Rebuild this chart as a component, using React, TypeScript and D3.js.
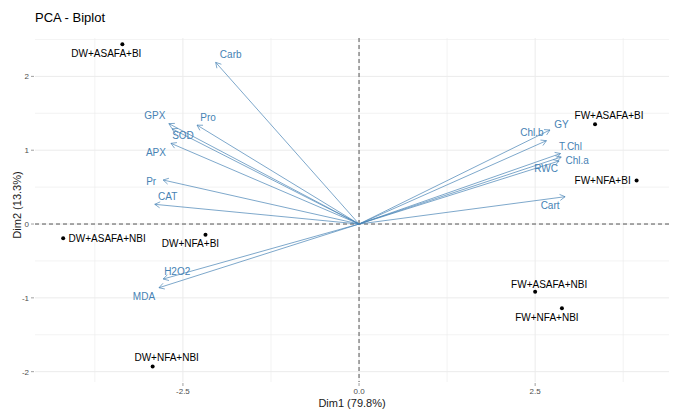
import React from "react";
import * as d3 from "d3";

// ---- data ----
const individuals = [
  "DW+ASAFA+BI",
  "DW+ASAFA+NBI",
  "DW+NFA+BI",
  "DW+NFA+NBI",
  "FW+ASAFA+BI",
  "FW+NFA+BI",
  "FW+ASAFA+NBI",
  "FW+NFA+NBI",
];
const indDim1 = [-3.36, -4.2, -2.18, -2.93, 3.35, 3.94, 2.5, 2.88];
const indDim2 = [2.435, -0.194, -0.145, -1.93, 1.35, 0.59, -0.917, -1.14];

const variables = [
  "Carb", "GPX", "SOD", "Pro", "APX", "Pr", "CAT", "H2O2", "MDA",
  "Chl.b", "GY", "T.Chl", "Chl.a", "RWC", "Cart",
];
const varDim1 = [-2.035, -2.7, -2.655, -2.3, -2.67, -2.78, -2.9, -2.78, -2.84, 2.71, 2.66, 2.86, 2.87, 2.84, 2.925];
const varDim2 = [2.19, 1.36, 1.29, 1.34, 1.093, 0.596, 0.267, -0.745, -0.863, 1.274, 1.129, 0.955, 0.908, 0.854, 0.37];

const xTicks = [-2.5, 0, 2.5];
const xTickLabels = ["-2.5", "0.0", "2.5"];
const yTicks = [-2, -1, 0, 1, 2];
const yTickLabels = ["-2", "-1", "0", "1", "2"];
const xMinor = [-3.75, -1.25, 1.25, 3.75];
const yMinor = [-1.5, -0.5, 0.5, 1.5, 2.5];

const title = "PCA - Biplot";
const xTitle = "Dim1 (79.8%)";
const yTitle = "Dim2 (13.3%)";

// ---- layout (label nudges in px, repel-like placement) ----
const indNudge: [number, number][] = [
  [-16, 13], [44, 4], [-15, 12], [14, -5], [14, -5], [-34, 3.5], [14, -4], [-15, 13],
];
const varNudge: [number, number][] = [
  [15, -4], [-14, -5], [11, 10], [11, -4], [-15, 13], [-12, 5], [13, -4], [14, -4], [-15, 12],
  [-18, 6], [15, -13], [10, -4], [16, 7], [-13, 11], [-15, 12],
];

const W = 685;
const H = 420;
const FONT = "'Liberation Sans', Arial, Helvetica, sans-serif";
const BLUE = "#4682B4";

export default function App() {
  const x = d3.scaleLinear().domain([-4.6, 4.4]).range([35, 669]);
  const y = d3.scaleLinear().domain([-2.14, 2.52]).range([382, 38]);
  const [x0, x1] = x.range();
  const [yb, yt] = y.range();
  const gridColor = "#EBEBEB";

  const arrowHead = (tx: number, ty: number, ox: number, oy: number) => {
    const ang = Math.atan2(ty - oy, tx - ox);
    const len = 6;
    const spread = Math.PI / 6;
    const a1 = ang + Math.PI - spread;
    const a2 = ang + Math.PI + spread;
    return `M${tx + len * Math.cos(a1)},${ty + len * Math.sin(a1)}L${tx},${ty}L${tx + len * Math.cos(a2)},${ty + len * Math.sin(a2)}`;
  };

  return (
    <svg
      width={W}
      height={H}
      style={{ position: "absolute", left: 0, top: 0, display: "block", background: "#fff" }}
      fontFamily={FONT}
    >
      <rect x={0} y={0} width={W} height={H} fill="#fff" />
      {/* grid */}
      {xMinor.map((v) => (
        <line key={"xm" + v} x1={x(v)} x2={x(v)} y1={yt} y2={yb} stroke={gridColor} strokeWidth={0.6} />
      ))}
      {yMinor.map((v) => (
        <line key={"ym" + v} x1={x0} x2={x1} y1={y(v)} y2={y(v)} stroke={gridColor} strokeWidth={0.6} />
      ))}
      {xTicks.map((v) => (
        <line key={"xg" + v} x1={x(v)} x2={x(v)} y1={yt} y2={yb} stroke={gridColor} strokeWidth={1} />
      ))}
      {yTicks.map((v) => (
        <line key={"yg" + v} x1={x0} x2={x1} y1={y(v)} y2={y(v)} stroke={gridColor} strokeWidth={1} />
      ))}
      {/* dashed zero lines */}
      <line x1={x0} x2={x1} y1={y(0)} y2={y(0)} stroke="#555" strokeWidth={1} strokeDasharray="4,3" />
      <line x1={x(0)} x2={x(0)} y1={yt} y2={yb} stroke="#555" strokeWidth={1} strokeDasharray="4,3" />

      {/* axis ticks and labels */}
      {xTicks.map((v, i) => (
        <g key={"xt" + v}>
          <line x1={x(v)} x2={x(v)} y1={yb + 1} y2={yb + 4} stroke="#888" strokeWidth={0.8} />
          <text x={x(v)} y={yb + 12} fontSize={8} fill="#4D4D4D" textAnchor="middle">
            {xTickLabels[i]}
          </text>
        </g>
      ))}
      {yTicks.map((v, i) => (
        <g key={"yt" + v}>
          <line x1={x0 - 4} x2={x0 - 1} y1={y(v)} y2={y(v)} stroke="#888" strokeWidth={0.8} />
          <text x={x0 - 6} y={y(v) + 3} fontSize={8} fill="#4D4D4D" textAnchor="end">
            {yTickLabels[i]}
          </text>
        </g>
      ))}
      <text x={(x0 + x1) / 2} y={407} fontSize={11} fill="#1a1a1a" textAnchor="middle">
        {xTitle}
      </text>
      <text
        transform={`translate(21,${(yt + yb) / 2 - 5}) rotate(-90)`}
        fontSize={11}
        fill="#1a1a1a"
        textAnchor="middle"
      >
        {yTitle}
      </text>
      <text x={35} y={22} fontSize={13} fill="#000">
        {title}
      </text>

      {/* variable arrows */}
      {variables.map((name, i) => {
        const tx = x(varDim1[i]);
        const ty = y(varDim2[i]);
        const ox = x(0);
        const oy = y(0);
        return (
          <g key={name}>
            <line x1={ox} y1={oy} x2={tx} y2={ty} stroke={BLUE} strokeWidth={0.7} />
            <path d={arrowHead(tx, ty, ox, oy)} fill="none" stroke={BLUE} strokeWidth={0.7} />
          </g>
        );
      })}
      {variables.map((name, i) => (
        <text
          key={"vl" + name}
          x={x(varDim1[i]) + varNudge[i][0]}
          y={y(varDim2[i]) + varNudge[i][1]}
          fontSize={10}
          fill={BLUE}
          textAnchor="middle"
        >
          {name}
        </text>
      ))}

      {/* individuals */}
      {individuals.map((name, i) => (
        <g key={name}>
          <circle cx={x(indDim1[i])} cy={y(indDim2[i])} r={2} fill="#000" />
          <text
            x={x(indDim1[i]) + indNudge[i][0]}
            y={y(indDim2[i]) + indNudge[i][1]}
            fontSize={10}
            fill="#000"
            textAnchor="middle"
          >
            {name}
          </text>
        </g>
      ))}
    </svg>
  );
}
